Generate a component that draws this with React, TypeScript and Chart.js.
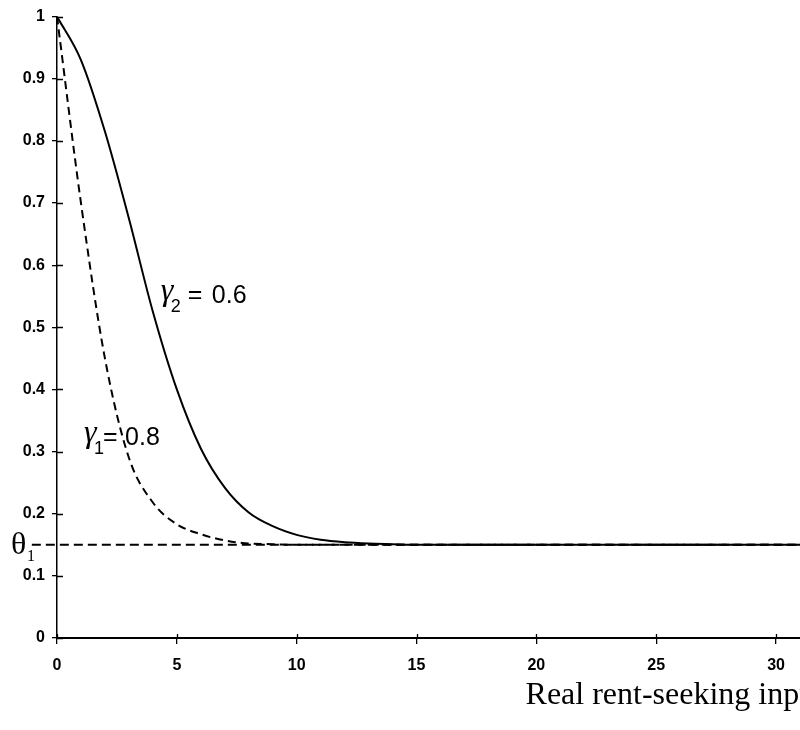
import React, { useEffect, useRef } from "react";
import { Chart, registerables } from "chart.js";

Chart.register(...registerables);

// Data
const xValues = [0, 1, 2, 3, 4, 5, 6, 7, 8, 9, 10, 11, 12, 13, 14, 15, 16, 17, 18, 19, 20, 21, 22, 23, 24, 25, 26, 27, 28, 29, 30, 31];
const gamma2Values = [1, 0.93, 0.815, 0.675, 0.525, 0.4, 0.305, 0.242, 0.202, 0.18, 0.166, 0.158, 0.154, 0.152, 0.151, 0.15, 0.15, 0.15, 0.15, 0.15, 0.15, 0.15, 0.15, 0.15, 0.15, 0.15, 0.15, 0.15, 0.15, 0.15, 0.15, 0.15];
const gamma1Values = [1, 0.7, 0.45, 0.29, 0.218, 0.183, 0.167, 0.157, 0.152, 0.151, 0.15, 0.15, 0.15, 0.15, 0.15, 0.15, 0.15, 0.15, 0.15, 0.15, 0.15, 0.15, 0.15, 0.15, 0.15, 0.15, 0.15, 0.15, 0.15, 0.15, 0.15, 0.15];
const thetaValue = 0.15;
const thetaStartX = -1.05;
const xTickValues = [0, 5, 10, 15, 20, 25, 30];
const xTickLabels = ["0", "5", "10", "15", "20", "25", "30"];
const yTickValues = [0, 0.1, 0.2, 0.3, 0.4, 0.5, 0.6, 0.7, 0.8, 0.9, 1];
const yTickLabels = ["0", "0.1", "0.2", "0.3", "0.4", "0.5", "0.6", "0.7", "0.8", "0.9", "1"];
const xTitle = "Real rent-seeking input";
const gamma1Label = { sub: "1", value: "0.8" };
const gamma2Label = { sub: "2", value: "0.6" };

const SANS = '"Liberation Sans", Arial, sans-serif';
const SERIF = '"Liberation Serif", "Times New Roman", serif';

const overlayPlugin = {
  id: "overlay",
  afterDraw(chart: any) {
    const { ctx } = chart;
    const x = chart.scales.x;
    const y = chart.scales.y;
    ctx.save();
    ctx.fillStyle = "#000";
    ctx.strokeStyle = "#000";

    // inner halves of tick marks (ticks cross the axes)
    ctx.lineWidth = 1.3;
    ctx.beginPath();
    yTickValues.forEach((v) => {
      const py = Math.round(y.getPixelForValue(v)) + 0.5;
      ctx.moveTo(x.left, py);
      ctx.lineTo(x.left + 6, py);
    });
    xTickValues.forEach((v) => {
      const px = Math.round(x.getPixelForValue(v)) + 0.5;
      ctx.moveTo(px, y.bottom);
      ctx.lineTo(px, y.bottom - 4);
    });
    ctx.stroke();

    // x-axis title (clipped at the right edge like the reference)
    ctx.font = `32px ${SERIF}`;
    ctx.textAlign = "left";
    ctx.textBaseline = "alphabetic";
    ctx.fillText(xTitle, x.getPixelForValue(19.55), y.bottom + 66);

    // gamma labels
    const drawGamma = (vx: number, vy: number, lab: { sub: string; value: string }, eqDx: number, valDx: number) => {
      const px = x.getPixelForValue(vx);
      const py = y.getPixelForValue(vy);
      ctx.font = `italic 32px ${SERIF}`;
      ctx.fillText("\u03b3", px - 1, py - 3);
      ctx.font = `18px ${SANS}`;
      ctx.fillText(lab.sub, px + 9, py + 9);
      ctx.font = `25px ${SANS}`;
      ctx.fillText("=", px + eqDx, py);
      ctx.fillText(lab.value, px + valDx, py);
    };
    drawGamma(4.375, (638 - 303) / 622, gamma2Label, 26, 50);
    drawGamma(1.17, (638 - 445) / 622, gamma1Label, 18, 40);

    // theta_1 label
    const ty = y.getPixelForValue(thetaValue);
    ctx.font = `32px ${SERIF}`;
    ctx.fillText("\u03b8", x.left - 46, ty + 9);
    ctx.font = `16px ${SERIF}`;
    ctx.fillText("1", x.left - 30, ty + 16);

    ctx.restore();
  },
};

export default function App() {
  const ref = useRef<HTMLCanvasElement | null>(null);

  useEffect(() => {
    if (!ref.current) return;
    const pts = (vals: number[]) => xValues.map((xv, i) => ({ x: xv, y: vals[i] }));
    const chart = new Chart(ref.current, {
      type: "line",
      data: {
        datasets: [
          {
            label: "gamma1",
            data: pts(gamma1Values),
            borderColor: "#000",
            borderWidth: 2,
            borderDash: [8, 5],
            pointRadius: 0,
            cubicInterpolationMode: "monotone",
            fill: false,
          },
          {
            label: "theta",
            data: [
              { x: thetaStartX, y: thetaValue },
              { x: xValues[xValues.length - 1], y: thetaValue },
            ],
            borderColor: "#000",
            borderWidth: 2,
            borderDash: [9, 5],
            pointRadius: 0,
            clip: false,
            fill: false,
          },
          {
            label: "gamma2",
            data: pts(gamma2Values),
            borderColor: "#000",
            borderWidth: 2,
            pointRadius: 0,
            cubicInterpolationMode: "monotone",
            fill: false,
          },
        ],
      } as any,
      options: {
        responsive: false,
        animation: false,
        layout: { padding: { top: 16, left: 0, right: 0, bottom: 0 } },
        plugins: { legend: { display: false }, tooltip: { enabled: false } },
        scales: {
          x: {
            type: "linear",
            min: 0,
            max: 31,
            afterBuildTicks: (s: any) => {
              s.ticks = xTickValues.map((v) => ({ value: v }));
            },
            afterFit: (s: any) => {
              s.height = 92;
            },
            ticks: {
              autoSkip: false,
              maxRotation: 0,
              padding: 12,
              color: "#000",
              font: { family: SANS, size: 16, weight: "bold" },
              callback: (v: any) => xTickLabels[xTickValues.indexOf(Number(v))] ?? "",
            },
            grid: { drawOnChartArea: false, drawTicks: true, tickLength: 6, color: "#000", lineWidth: 1.3 },
            border: { display: true, color: "#000", width: 2 },
          },
          y: {
            type: "linear",
            min: 0,
            max: 1,
            afterBuildTicks: (s: any) => {
              s.ticks = yTickValues.map((v) => ({ value: v }));
            },
            afterFit: (s: any) => {
              s.width = 57;
            },
            ticks: {
              autoSkip: false,
              padding: 7,
              color: "#000",
              font: { family: SANS, size: 16, weight: "bold" },
              callback: (v: any) => {
                const i = yTickValues.findIndex((t) => Math.abs(t - Number(v)) < 1e-9);
                return i >= 0 ? yTickLabels[i] : "";
              },
            },
            grid: { drawOnChartArea: false, drawTicks: true, tickLength: 5, color: "#000", lineWidth: 1.3 },
            border: { display: true, color: "#000", width: 1.5 },
          },
        },
      } as any,
      plugins: [overlayPlugin],
    });
    return () => chart.destroy();
  }, []);

  return (
    <div style={{ position: "absolute", left: 0, top: 0, width: 800, height: 730, background: "#fff" }}>
      <canvas ref={ref} width={800} height={730} style={{ display: "block" }} />
    </div>
  );
}
